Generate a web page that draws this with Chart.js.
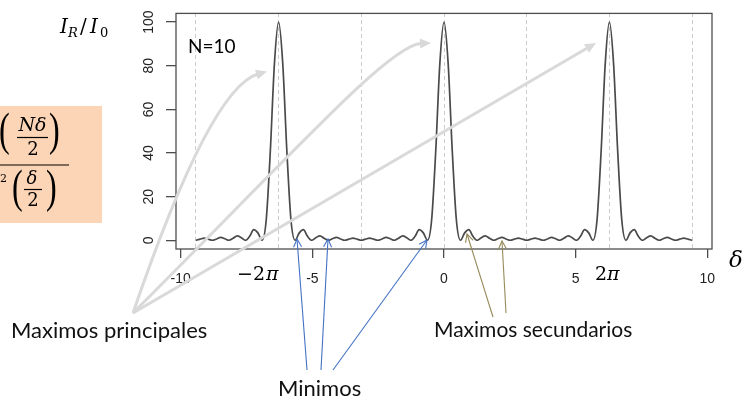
<!DOCTYPE html>
<html>
<head>
<meta charset="utf-8">
<script src="https://cdn.jsdelivr.net/npm/chart.js@4.4.1/dist/chart.umd.min.js"></script>
<style>
  html, body { margin: 0; padding: 0; background: #fff; }
</style>
</head>
<body>
<canvas id="chart" width="744" height="401"></canvas>
<script>
// phase difference delta (rad), one sample every pi/20 from -3pi to 3pi
const delta = [
  -9.425, -9.268, -9.111, -8.954, -8.796, -8.639, -8.482, -8.325, -8.168, -8.011,
  -7.854, -7.697, -7.540, -7.383, -7.226, -7.069, -6.912, -6.754, -6.597, -6.440,
  -6.283, -6.126, -5.969, -5.812, -5.655, -5.498, -5.341, -5.184, -5.027, -4.869,
  -4.712, -4.555, -4.398, -4.241, -4.084, -3.927, -3.770, -3.613, -3.456, -3.299,
  -3.142, -2.985, -2.827, -2.670, -2.513, -2.356, -2.199, -2.042, -1.885, -1.728,
  -1.571, -1.414, -1.257, -1.100, -0.942, -0.785, -0.628, -0.471, -0.314, -0.157,
  0,
  0.157, 0.314, 0.471, 0.628, 0.785, 0.942, 1.100, 1.257, 1.414, 1.571,
  1.728, 1.885, 2.042, 2.199, 2.356, 2.513, 2.670, 2.827, 2.985, 3.142,
  3.299, 3.456, 3.613, 3.770, 3.927, 4.084, 4.241, 4.398, 4.555, 4.712,
  4.869, 5.027, 5.184, 5.341, 5.498, 5.655, 5.812, 5.969, 6.126, 6.283,
  6.440, 6.597, 6.754, 6.912, 7.069, 7.226, 7.383, 7.540, 7.697, 7.854,
  8.011, 8.168, 8.325, 8.482, 8.639, 8.796, 8.954, 9.111, 9.268, 9.425
];

// I_R / I_0
const intensity = [
  0, 0.5, 1.0, 0.5, 0, 0.6, 1.3, 0.7, 0, 0.9,
  2.0, 1.2, 0, 1.8, 4.9, 3.4, 0, 9.2, 40.9, 81.2,
  100, 81.2, 40.9, 9.2, 0, 3.4, 4.9, 1.8, 0, 1.2,
  2.0, 0.9, 0, 0.7, 1.3, 0.6, 0, 0.5, 1.0, 0.5,
  0, 0.5, 1.0, 0.5, 0, 0.6, 1.3, 0.7, 0, 0.9,
  2.0, 1.2, 0, 1.8, 4.9, 3.4, 0, 9.2, 40.9, 81.2,
  100,
  81.2, 40.9, 9.2, 0, 3.4, 4.9, 1.8, 0, 1.2, 2.0,
  0.9, 0, 0.7, 1.3, 0.6, 0, 0.5, 1.0, 0.5, 0,
  0.5, 1.0, 0.5, 0, 0.6, 1.3, 0.7, 0, 0.9, 2.0,
  1.2, 0, 1.8, 4.9, 3.4, 0, 9.2, 40.9, 81.2, 100,
  81.2, 40.9, 9.2, 0, 3.4, 4.9, 1.8, 0, 1.2, 2.0,
  0.9, 0, 0.7, 1.3, 0.6, 0, 0.5, 1.0, 0.5, 0
];

const xTicks = [-10, -5, 0, 5, 10];
const yTicks = [0, 20, 40, 60, 80, 100];
const piLines = [-9.425, -6.283, -3.142, 0, 3.142, 6.283, 9.425];

const AXIS = '#4d4d4d';

function head(c, x, y, ang, len, half, filled) {
  const bx = x - len * Math.cos(ang), by = y - len * Math.sin(ang);
  const px = half * Math.sin(ang), py = -half * Math.cos(ang);
  c.beginPath();
  c.moveTo(bx + px, by + py);
  c.lineTo(x, y);
  c.lineTo(bx - px, by - py);
  if (filled) { c.closePath(); c.fill(); } else { c.stroke(); }
}

function thinArrow(c, x0, y0, x1, y1, color) {
  c.strokeStyle = color;
  c.lineWidth = 1.1;
  c.beginPath();
  c.moveTo(x0, y0);
  c.lineTo(x1, y1);
  c.stroke();
  head(c, x1, y1, Math.atan2(y1 - y0, x1 - x0), 8, 4, false);
}

function paren(c, ch, x, top, h) {
  const size = h / 0.87;
  c.save();
  c.font = size + 'px "Liberation Serif"';
  c.textAlign = 'left';
  c.textBaseline = 'alphabetic';
  c.translate(x, top + 0.694 * size);
  c.scale(0.7, 1);
  c.fillText(ch, 0, 0);
  c.restore();
}

function txt(c, s, x, y, font, align) {
  c.font = font;
  c.textAlign = align || 'left';
  c.fillText(s, x, y);
}

const overlay = {
  id: 'overlay',
  beforeDraw(chart) {
    const c = chart.ctx;
    c.save();
    c.fillStyle = '#fbd5b5';
    c.fillRect(0, 106, 102, 117);
    c.restore();
  },
  afterDraw(chart) {
    const c = chart.ctx;
    const a = chart.chartArea;
    c.save();
    c.textBaseline = 'alphabetic';

    // R style box
    c.strokeStyle = AXIS;
    c.lineWidth = 1.3;
    c.strokeRect(a.left, a.top, a.right - a.left, a.bottom - a.top);

    // formula in the orange box (cut at the left edge)
    c.fillStyle = '#000';
    c.strokeStyle = '#000';
    paren(c, '(', -1, 113, 40);
    paren(c, ')', 49, 113, 40);
    txt(c, 'N\u03b4', 32.5, 131, 'italic 19px "DejaVu Serif"', 'center');
    c.lineWidth = 1.2;
    c.beginPath(); c.moveTo(17, 137.5); c.lineTo(48, 137.5); c.stroke();
    txt(c, '2', 33, 155, '18px "DejaVu Serif"', 'center');
    c.beginPath(); c.moveTo(0, 165); c.lineTo(69, 165); c.stroke();
    txt(c, '2', 0, 182, '11px "DejaVu Serif"', 'left');
    paren(c, '(', 12, 170, 40);
    paren(c, ')', 46, 170, 40);
    txt(c, '\u03b4', 32, 184, 'italic 18px "DejaVu Serif"', 'center');
    c.beginPath(); c.moveTo(24, 189.5); c.lineTo(42, 189.5); c.stroke();
    txt(c, '2', 33, 206, '18px "DejaVu Serif"', 'center');

    // y label I_R / I_0
    txt(c, 'I', 60, 33, 'italic 20px "DejaVu Serif"');
    txt(c, 'R', 68, 37, 'italic 13px "DejaVu Serif"');
    txt(c, '/', 80, 33, '20px "DejaVu Serif"');
    txt(c, 'I', 90, 33, 'italic 20px "DejaVu Serif"');
    txt(c, '0', 100, 37, '13px "DejaVu Serif"');

    // x label and pi marks
    txt(c, '\u03b4', 729, 267, 'italic 23px "DejaVu Serif"');
    txt(c, '\u22122', 237, 280, '19px "DejaVu Serif"');
    txt(c, '\u03c0', 266, 280, 'italic 19px "DejaVu Serif"');
    txt(c, '2', 595, 280, '19px "DejaVu Serif"');
    txt(c, '\u03c0', 607, 280, 'italic 19px "DejaVu Serif"');

    txt(c, 'N=10', 188, 53, '19px Lato');

    // annotations
    c.fillStyle = '#111';
    txt(c, 'Maximos principales', 11, 338, '22px Lato');
    txt(c, 'Maximos secundarios', 434, 337, '21px Lato');
    txt(c, 'Minimos', 278, 396, '22px Lato');

    // grey arrows to the principal maxima
    c.strokeStyle = '#d9d9d9';
    c.fillStyle = '#d9d9d9';
    c.lineWidth = 3;
    c.beginPath();
    c.moveTo(133, 313);
    c.quadraticCurveTo(210, 88, 258, 74);
    c.stroke();
    head(c, 267, 71.5, Math.atan2(72 - 88, 266 - 210), 11, 5, true);
    c.beginPath();
    c.moveTo(133, 313);
    c.bezierCurveTo(300, 146, 390, 45, 421, 43.5);
    c.stroke();
    head(c, 431, 43, Math.atan2(43 - 45, 430 - 390), 11, 5, true);
    const ang3 = Math.atan2(43 - 313, 596 - 133);
    c.beginPath();
    c.moveTo(133, 313);
    c.lineTo(596 - 9 * Math.cos(ang3), 43 - 9 * Math.sin(ang3));
    c.stroke();
    head(c, 596, 43, ang3, 11, 5, true);

    // blue arrows to the minima
    thinArrow(c, 307, 370, 297, 239, '#4472c4');
    thinArrow(c, 321, 370, 328, 239, '#4472c4');
    thinArrow(c, 333, 370, 427, 240, '#4472c4');

    // olive arrows to the secondary maxima
    thinArrow(c, 493, 317, 467, 234, '#968b5a');
    thinArrow(c, 506, 313, 502, 241, '#968b5a');

    c.restore();
  }
};

new Chart(document.getElementById('chart'), {
  type: 'line',
  data: {
    datasets: [{
      data: delta.map((d, i) => ({ x: d, y: intensity[i] })),
      borderColor: '#4a4a4a',
      borderWidth: 1.7,
      pointRadius: 0,
      fill: false,
      cubicInterpolationMode: 'monotone'
    }]
  },
  options: {
    responsive: false,
    animation: false,
    layout: { padding: { top: 12, right: 32, left: 0, bottom: 0 } },
    plugins: { legend: { display: false }, tooltip: { enabled: false } },
    scales: {
      x: {
        type: 'linear',
        position: 'bottom',
        min: -10.18,
        max: 10.18,
        afterBuildTicks: s => { s.ticks = xTicks.map(v => ({ value: v })); },
        afterFit: s => { s.height = 152; },
        grid: { drawOnChartArea: false, drawTicks: true, tickLength: 9, color: AXIS, lineWidth: 1.3 },
        border: { display: false },
        ticks: { color: '#222', font: { family: 'Liberation Sans', size: 14 }, padding: 13, maxRotation: 0, autoSkip: false }
      },
      xpi: {
        type: 'linear',
        axis: 'x',
        position: 'top',
        min: -10.18,
        max: 10.18,
        afterBuildTicks: s => { s.ticks = piLines.map(v => ({ value: v })); },
        afterFit: s => { s.height = 0; },
        grid: { drawOnChartArea: true, drawTicks: false, color: '#cccccc', lineWidth: 1 },
        border: { display: false, dash: [4, 3] },
        ticks: { display: false }
      },
      y: {
        type: 'linear',
        position: 'left',
        min: -4,
        max: 104,
        afterBuildTicks: s => { s.ticks = yTicks.map(v => ({ value: v })); },
        afterFit: s => { s.width = 176; },
        grid: { drawOnChartArea: false, drawTicks: true, tickLength: 10, color: AXIS, lineWidth: 1.3 },
        border: { display: false },
        ticks: { color: '#222', font: { family: 'Liberation Sans', size: 14 }, padding: 5, minRotation: 90, maxRotation: 90, crossAlign: 'center', autoSkip: false }
      }
    }
  },
  plugins: [overlay]
});
</script>
</body>
</html>
